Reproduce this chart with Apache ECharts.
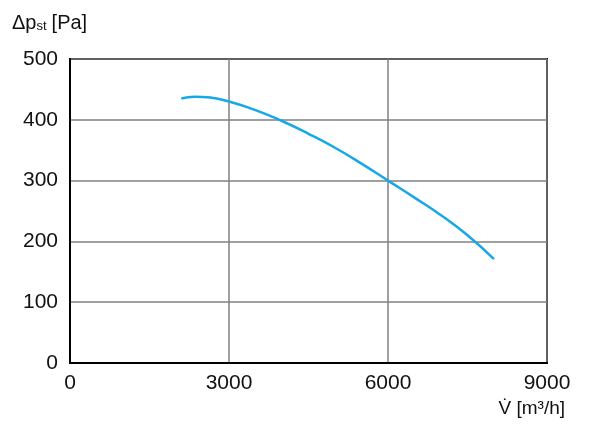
<!DOCTYPE html>
<html>
<head>
<meta charset="utf-8">
<script src="https://cdn.jsdelivr.net/npm/echarts@6/dist/echarts.min.js"></script>
<style>
  html, body { margin: 0; padding: 0; background: #fff; }
  #chart { width: 600px; height: 424px; }
</style>
</head>
<body>
<div id="chart"></div>
<script>
// Kennlinie: Volumenstrom [m3/h] -> statischer Druck [Pa]
var flowValues     = [2100, 2350, 2650, 3000, 3500, 4000, 4500, 5000, 5500, 6000, 6500, 7000, 7500, 8000];
var pressureValues = [435,  438,  436.5, 430, 416,  398,  377,  354,  328,  300,  272,  243,  210,  171];
var xTicks = [0, 3000, 6000, 9000];
var yTicks = [0, 100, 200, 300, 400, 500];

var fontFam = '"Liberation Sans", Arial, sans-serif';

var curve = [];
for (var i = 0; i < flowValues.length; i++) {
    curve.push([flowValues[i], pressureValues[i]]);
}

var option = {
    animation: false,
    grid: {
        left: 70,
        right: 53,
        top: 59,
        bottom: 61,
        show: true,
        borderColor: '#000',
        borderWidth: 2,
        backgroundColor: 'transparent'
    },
    title: [
        {
            left: 7,
            top: 8,
            text: '{d|Δp}{s|st} {d|[Pa]}',
            textStyle: {
                fontWeight: 'normal',
                rich: {
                    d: { fontFamily: fontFam, fontSize: 20, fontWeight: 'normal', color: '#111' },
                    s: { fontFamily: fontFam, fontSize: 13, fontWeight: 'normal', color: '#111', padding: [6, 0, 0, 0] }
                }
            }
        },
        {
            right: 30,
            top: 394,
            text: 'V̇ [m³/h]',
            textStyle: { fontFamily: fontFam, fontSize: 19, fontWeight: 'normal', color: '#111' }
        }
    ],
    xAxis: {
        type: 'value',
        min: xTicks[0],
        max: xTicks[xTicks.length - 1],
        interval: 3000,
        axisLine: { show: true, lineStyle: { color: '#000', width: 2 } },
        axisTick: { show: false },
        axisLabel: {
            fontFamily: fontFam, fontSize: 21, color: '#111', margin: 10,
            formatter: function (v) { return xTicks.indexOf(v) >= 0 ? String(v) : ''; }
        },
        splitLine: { show: true, lineStyle: { color: '#808080', width: 1.5 } }
    },
    yAxis: {
        type: 'value',
        min: yTicks[0],
        max: yTicks[yTicks.length - 1],
        interval: 100,
        axisLine: { show: true, lineStyle: { color: '#000', width: 2 } },
        axisTick: { show: false },
        axisLabel: {
            fontFamily: fontFam, fontSize: 21, color: '#111', margin: 12,
            formatter: function (v) { return yTicks.indexOf(v) >= 0 ? String(v) : ''; }
        },
        splitLine: { show: true, lineStyle: { color: '#808080', width: 1.5 } }
    },
    series: [
        {
            type: 'line',
            data: curve,
            smooth: true,
            showSymbol: false,
            lineStyle: { color: '#16a8e8', width: 2.5 }
        }
    ]
};

var myChart = echarts.init(document.getElementById('chart'));
myChart.setOption(option);
</script>
</body>
</html>
